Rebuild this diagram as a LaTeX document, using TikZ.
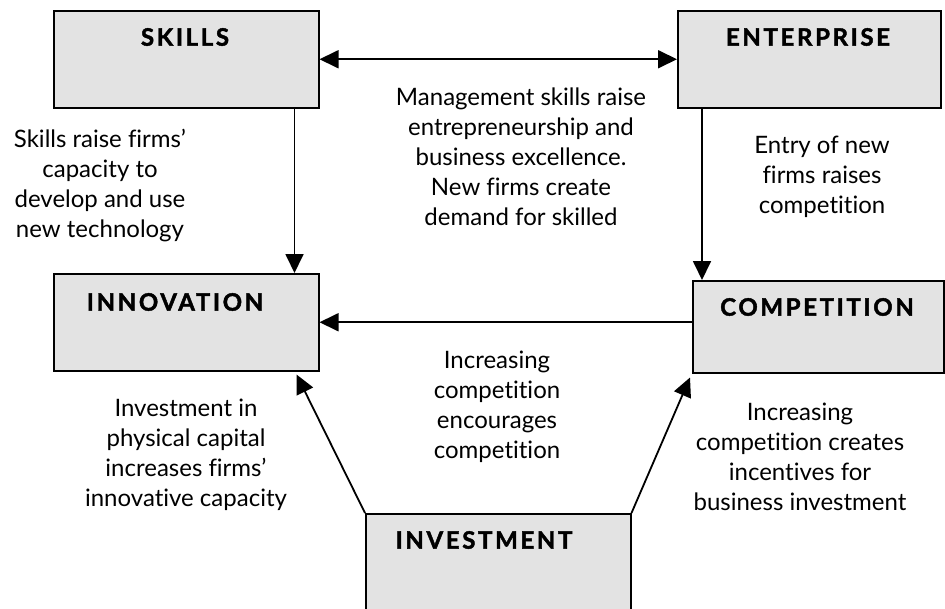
\documentclass[tikz,border=0pt]{standalone}
\usepackage{fontspec}
\setmainfont{Lato}[Ligatures=NoCommon]
\usetikzlibrary{arrows.meta}

\begin{document}
\begin{tikzpicture}[x=1pt, y=-1pt,
  every node/.style={inner sep=0pt},
  box/.style={draw=black, line width=1.5pt, fill=gray!22, anchor=north west},
  boxlabel/.style={font=\bfseries\fontsize{24}{28}\selectfont\addfontfeatures{LetterSpace=11,FakeBold=1.8}},
  note/.style={align=center, font=\fontsize{24}{30}\selectfont},
  link/.style={-{Triangle[length=19pt,width=18pt]}, line width=1.8pt},
  both/.style={{Triangle[length=19pt,width=18pt]}-{Triangle[length=19pt,width=18pt]}, line width=1.8pt},
  ]
  \useasboundingbox (0,0) rectangle (945,608);
  % boxes
  \node[box, minimum width=265pt, minimum height=97pt] (skills) at (53,10) {};
  \node[box, minimum width=263pt, minimum height=97pt] (enterprise) at (677,10) {};
  \node[box, minimum width=265pt, minimum height=97pt] (innovation) at (53,273) {};
  \node[box, minimum width=251pt, minimum height=92pt] (competition) at (692,280) {};
  \node[box, minimum width=265pt, minimum height=120pt] (investment) at (365,513) {};
  \node[boxlabel] (skillsL) at (185,37) {SKILLS};
  \node[boxlabel] (enterpriseL) at (808,37) {ENTERPRISE};
  \node[boxlabel] (innovationL) at (175,302) {INNOVATION};
  \node[boxlabel] (competitionL) at (817,307) {COMPETITION};
  \node[boxlabel] (investmentL) at (484,540) {INVESTMENT};
  % links
  \draw[both] (skills.east) -- (enterprise.west);
  \draw[link] ([xshift=-25pt]skills.south east) -- ([xshift=-25pt]innovation.north east);
  \draw[link] ([xshift=25pt]enterprise.south west) -- ([xshift=25pt]enterprise.south west |- competition.north);
  \draw[link] (competition.west |- innovation.east) -- (innovation.east);
  \draw[link] (investment.north west) -- ([xshift=-23pt,yshift=-3pt]innovation.south east);
  \draw[link] (investment.north east) -- ([xshift=-2pt,yshift=-4pt]competition.south west);
  % notes
  \node[note] (skillsN) at (100,186) {Skills raise firms'\\capacity to\\develop and use\\new technology};
  \node[note] (mgmtN) at (521,157) {Management skills raise\\entrepreneurship and\\business excellence.\\New firms create\\demand for skilled};
  \node[note] (entryN) at (822,177) {Entry of new\\firms raises\\competition};
  \node[note] (compN) at (497,407) {Increasing\\competition\\encourages\\competition};
  \node[note] (investN) at (186,455) {Investment in\\physical capital\\increases firms'\\innovative capacity};
  \node[note] (incentN) at (800,457) {Increasing\\competition creates\\incentives for\\business investment};
\end{tikzpicture}
\end{document}
